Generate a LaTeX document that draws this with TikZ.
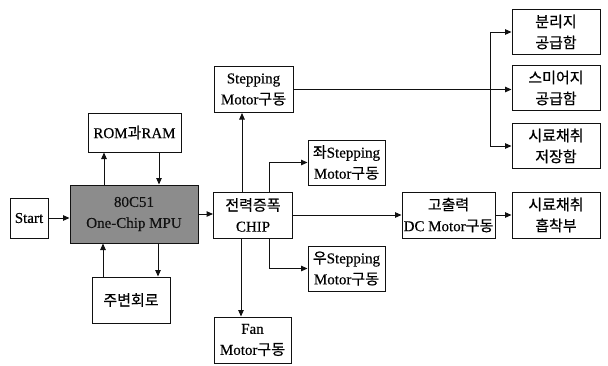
\documentclass[tikz,border=0pt]{standalone}
\usepackage{fontspec}
\setmainfont{Liberation Serif}[FakeBold=0.4]
\newfontfamily\kr{Noto Sans CJK KR}[FakeBold=0.6]
\usepackage{xcolor}
\usepackage{tikz}
\usetikzlibrary{arrows.meta,calc}
\definecolor{Ink}{HTML}{111111}
\definecolor{ChipGray}{HTML}{8C8C8C}
\newcommand{\ko}[1]{{\kr #1}}

\begin{document}
\begin{tikzpicture}[x=1pt,y=-1pt,>={Triangle[length=6.5pt,width=5.5pt]},
  blk/.style={draw=Ink,line width=1pt,inner sep=0pt,align=center,
    font=\fontsize{15}{21}\selectfont},
  link/.style={Ink,line width=1pt,->}]
  \useasboundingbox (0,0) rectangle (608,365);
  \fill[white] (0,0) rectangle (608,365);
  % controller side
  \node[blk,minimum width=38pt,minimum height=40pt] (start) at (29,218) {Start};
  \node[blk,fill=ChipGray,text=Ink,minimum width=128pt,minimum height=58pt] (mpu) at (134,214) {80C51\\One-Chip MPU};
  \node[blk,minimum width=93pt,minimum height=39pt] (rom) at (134.5,132.5) {ROM\ko{과}RAM};
  \node[blk,minimum width=78pt,minimum height=46pt] (peri) at (131,300) {\ko{주변회로}};
  % driver stage
  \node[blk,minimum width=79pt,minimum height=46pt] (chip) at (253,215) {\ko{전력증폭}\\CHIP};
  \node[blk,minimum width=79pt,minimum height=46pt] (stm) at (253.5,89.5) {Stepping\\Motor\ko{구동}};
  \node[blk,minimum width=77pt,minimum height=45pt] (lstm) at (346.5,162.5) {\ko{좌}Stepping\\Motor\ko{구동}};
  \node[blk,minimum width=77pt,minimum height=45pt] (rstm) at (346.5,268.5) {\ko{우}Stepping\\Motor\ko{구동}};
  \node[blk,minimum width=77pt,minimum height=46pt] (fan) at (252.5,340) {Fan\\Motor\ko{구동}};
  \node[blk,minimum width=93pt,minimum height=46pt] (dcm) at (448.5,215) {\ko{고출력}\\DC Motor\ko{구동}};
  % sample handling
  \node[blk,minimum width=88pt,minimum height=46pt] (suck) at (556,215) {\ko{시료채취}\\\ko{흡착부}};
  \node[blk,minimum width=88pt,minimum height=45pt] (sep) at (556,32) {\ko{분리지}\\\ko{공급함}};
  \node[blk,minimum width=88pt,minimum height=45pt] (smear) at (556,88) {\ko{스미어지}\\\ko{공급함}};
  \node[blk,minimum width=88pt,minimum height=45pt] (store) at (556,146) {\ko{시료채취}\\\ko{저장함}};
  \coordinate (fork) at (490,88);

  \draw[link] (start.east) -- (start.east -| mpu.west);
  \draw[link] ([xshift=-30pt]mpu.north) -- ([xshift=-30pt]mpu.north |- rom.south);
  \draw[link] ([xshift=25pt]mpu.north |- rom.south) -- ([xshift=25pt]mpu.north);
  \draw[link] ([xshift=-31pt]mpu.south |- peri.north) -- ([xshift=-31pt]mpu.south);
  \draw[link] ([xshift=24pt]mpu.south) -- ([xshift=24pt]mpu.south |- peri.north);
  \draw[link] (mpu.east) -- (mpu.east -| chip.west);
  \draw[link] ([xshift=-11pt]chip.north) -- ([xshift=-11pt]chip.north |- stm.south);
  \draw[link] ([xshift=-12pt]chip.south) -- ([xshift=-12pt]chip.south |- fan.north);
  \draw[link] ([xshift=16pt]chip.north) |- (lstm.west);
  \draw[link] ([xshift=16pt]chip.south) |- (rstm.west);
  \draw[link] (chip.east) -- (chip.east -| dcm.west);
  \draw[link] (dcm.east) -- (dcm.east -| suck.west);
  \draw[link] (stm.east) -- (stm.east -| smear.west);
  \draw[Ink,line width=1pt] (fork |- sep.west) -- (fork |- store.west);
  \foreach \b in {sep,store}
    \draw[link] (fork |- \b.west) -- (\b.west);
\end{tikzpicture}
\end{document}
